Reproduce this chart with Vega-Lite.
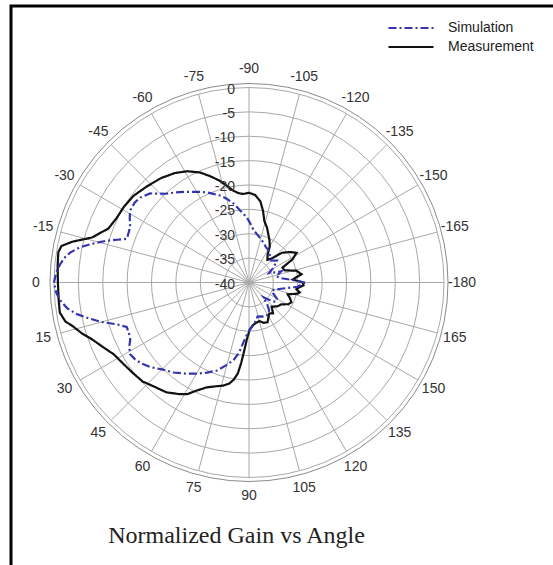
{
  "$schema": "https://vega.github.io/schema/vega-lite/v6.json",
  "width": 545,
  "height": 561,
  "autosize": {"type": "none"},
  "padding": {"left": 11, "top": 6, "right": -3, "bottom": -2},
  "background": "white",
  "title": {
    "text": "Normalized Gain vs Angle",
    "orient": "bottom",
    "anchor": "middle",
    "frame": "group",
    "offset": 0,
    "dx": -47,
    "dy": -31,
    "baseline": "middle",
    "font": "Liberation Serif",
    "fontSize": 24,
    "fontWeight": "normal",
    "color": "#222"
  },
  "config": {
    "view": {"stroke": "#000", "strokeWidth": 3},
    "font": "Liberation Sans"
  },
  "datasets": {
    "rings": [{"gain": 0}, {"gain": -5}, {"gain": -10}, {"gain": -15}, {"gain": -20}, {"gain": -25}, {"gain": -30}, {"gain": -35}],
    "rlabels": [
      {"gain": 0, "lab": "0"}, {"gain": -5, "lab": "-5"}, {"gain": -10, "lab": "-10"}, {"gain": -15, "lab": "-15"},
      {"gain": -20, "lab": "-20"}, {"gain": -25, "lab": "-25"}, {"gain": -30, "lab": "-30"}, {"gain": -35, "lab": "-35"}, {"gain": -40, "lab": "-40"}
    ],
    "angles": [
      {"angle": -180, "lab": "-180"}, {"angle": -165, "lab": "-165"}, {"angle": -150, "lab": "-150"}, {"angle": -135, "lab": "-135"},
      {"angle": -120, "lab": "-120"}, {"angle": -105, "lab": "-105"}, {"angle": -90, "lab": "-90"}, {"angle": -75, "lab": "-75"},
      {"angle": -60, "lab": "-60"}, {"angle": -45, "lab": "-45"}, {"angle": -30, "lab": "-30"}, {"angle": -15, "lab": "-15"},
      {"angle": 0, "lab": "0"}, {"angle": 15, "lab": "15"}, {"angle": 30, "lab": "30"}, {"angle": 45, "lab": "45"},
      {"angle": 60, "lab": "60"}, {"angle": 75, "lab": "75"}, {"angle": 90, "lab": "90"}, {"angle": 105, "lab": "105"},
      {"angle": 120, "lab": "120"}, {"angle": 135, "lab": "135"}, {"angle": 150, "lab": "150"}, {"angle": 165, "lab": "165"}
    ],
    "curves": [
      {"series": "Measurement", "angle": -180, "gain": -29.0},
      {"series": "Measurement", "angle": -176, "gain": -31.0},
      {"series": "Measurement", "angle": -171, "gain": -29.1},
      {"series": "Measurement", "angle": -166, "gain": -30.0},
      {"series": "Measurement", "angle": -161, "gain": -32.3},
      {"series": "Measurement", "angle": -156, "gain": -32.5},
      {"series": "Measurement", "angle": -152, "gain": -29.9},
      {"series": "Measurement", "angle": -148, "gain": -28.5},
      {"series": "Measurement", "angle": -143, "gain": -29.6},
      {"series": "Measurement", "angle": -138, "gain": -30.9},
      {"series": "Measurement", "angle": -133, "gain": -33.3},
      {"series": "Measurement", "angle": -129, "gain": -34.0},
      {"series": "Measurement", "angle": -124, "gain": -33.2},
      {"series": "Measurement", "angle": -120, "gain": -31.5},
      {"series": "Measurement", "angle": -116, "gain": -30.4},
      {"series": "Measurement", "angle": -108, "gain": -28.1},
      {"series": "Measurement", "angle": -104, "gain": -27.0},
      {"series": "Measurement", "angle": -101, "gain": -25.0},
      {"series": "Measurement", "angle": -98, "gain": -23.2},
      {"series": "Measurement", "angle": -94, "gain": -22.0},
      {"series": "Measurement", "angle": -90, "gain": -21.6},
      {"series": "Measurement", "angle": -86, "gain": -21.8},
      {"series": "Measurement", "angle": -83, "gain": -21.5},
      {"series": "Measurement", "angle": -80, "gain": -20.8},
      {"series": "Measurement", "angle": -77, "gain": -19.6},
      {"series": "Measurement", "angle": -74, "gain": -18.3},
      {"series": "Measurement", "angle": -70, "gain": -16.8},
      {"series": "Measurement", "angle": -66, "gain": -15.3},
      {"series": "Measurement", "angle": -61, "gain": -13.9},
      {"series": "Measurement", "angle": -56, "gain": -12.9},
      {"series": "Measurement", "angle": -50, "gain": -12.0},
      {"series": "Measurement", "angle": -43, "gain": -11.2},
      {"series": "Measurement", "angle": -37, "gain": -10.4},
      {"series": "Measurement", "angle": -31, "gain": -10.0},
      {"series": "Measurement", "angle": -26, "gain": -9.8},
      {"series": "Measurement", "angle": -21, "gain": -9.1},
      {"series": "Measurement", "angle": -16, "gain": -6.5},
      {"series": "Measurement", "angle": -13, "gain": -2.8},
      {"series": "Measurement", "angle": -11, "gain": -0.8},
      {"series": "Measurement", "angle": -9, "gain": -0.4},
      {"series": "Measurement", "angle": -5, "gain": -0.6},
      {"series": "Measurement", "angle": 0, "gain": -0.8},
      {"series": "Measurement", "angle": 5, "gain": -0.8},
      {"series": "Measurement", "angle": 9, "gain": -0.7},
      {"series": "Measurement", "angle": 12, "gain": -1.5},
      {"series": "Measurement", "angle": 14, "gain": -2.8},
      {"series": "Measurement", "angle": 17, "gain": -4.2},
      {"series": "Measurement", "angle": 20, "gain": -5.8},
      {"series": "Measurement", "angle": 24, "gain": -7.3},
      {"series": "Measurement", "angle": 28, "gain": -8.6},
      {"series": "Measurement", "angle": 33, "gain": -9.3},
      {"series": "Measurement", "angle": 38, "gain": -9.8},
      {"series": "Measurement", "angle": 43, "gain": -10.2},
      {"series": "Measurement", "angle": 47, "gain": -11.0},
      {"series": "Measurement", "angle": 53, "gain": -11.8},
      {"series": "Measurement", "angle": 58, "gain": -13.0},
      {"series": "Measurement", "angle": 61, "gain": -13.8},
      {"series": "Measurement", "angle": 64, "gain": -15.3},
      {"series": "Measurement", "angle": 68, "gain": -16.8},
      {"series": "Measurement", "angle": 72, "gain": -17.6},
      {"series": "Measurement", "angle": 76, "gain": -18.2},
      {"series": "Measurement", "angle": 79, "gain": -18.9},
      {"series": "Measurement", "angle": 81, "gain": -19.8},
      {"series": "Measurement", "angle": 83, "gain": -21.2},
      {"series": "Measurement", "angle": 84.5, "gain": -23.5},
      {"series": "Measurement", "angle": 86, "gain": -26.0},
      {"series": "Measurement", "angle": 88, "gain": -28.5},
      {"series": "Measurement", "angle": 91, "gain": -30.4},
      {"series": "Measurement", "angle": 95, "gain": -31.2},
      {"series": "Measurement", "angle": 100, "gain": -31.6},
      {"series": "Measurement", "angle": 105, "gain": -31.8},
      {"series": "Measurement", "angle": 110, "gain": -31.2},
      {"series": "Measurement", "angle": 115, "gain": -31.0},
      {"series": "Measurement", "angle": 119, "gain": -31.8},
      {"series": "Measurement", "angle": 123, "gain": -32.4},
      {"series": "Measurement", "angle": 128, "gain": -32.0},
      {"series": "Measurement", "angle": 133, "gain": -33.2},
      {"series": "Measurement", "angle": 140, "gain": -32.4},
      {"series": "Measurement", "angle": 146, "gain": -32.0},
      {"series": "Measurement", "angle": 151, "gain": -30.8},
      {"series": "Measurement", "angle": 155, "gain": -30.4},
      {"series": "Measurement", "angle": 159, "gain": -31.0},
      {"series": "Measurement", "angle": 163, "gain": -31.7},
      {"series": "Measurement", "angle": 167, "gain": -29.8},
      {"series": "Measurement", "angle": 169, "gain": -29.4},
      {"series": "Measurement", "angle": 172, "gain": -30.2},
      {"series": "Measurement", "angle": 175, "gain": -29.5},
      {"series": "Measurement", "angle": 177, "gain": -28.8},
      {"series": "Measurement", "angle": 180, "gain": -29.0},
      {"series": "Simulation", "angle": -180, "gain": -28.5},
      {"series": "Simulation", "angle": -176, "gain": -31.5},
      {"series": "Simulation", "angle": -172, "gain": -33.5},
      {"series": "Simulation", "angle": -167, "gain": -34.3},
      {"series": "Simulation", "angle": -161, "gain": -33.0},
      {"series": "Simulation", "angle": -155, "gain": -35.5},
      {"series": "Simulation", "angle": -149, "gain": -34.2},
      {"series": "Simulation", "angle": -142, "gain": -32.7},
      {"series": "Simulation", "angle": -135, "gain": -33.6},
      {"series": "Simulation", "angle": -128, "gain": -33.0},
      {"series": "Simulation", "angle": -122, "gain": -32.3},
      {"series": "Simulation", "angle": -116, "gain": -32.0},
      {"series": "Simulation", "angle": -110, "gain": -31.3},
      {"series": "Simulation", "angle": -104, "gain": -30.6},
      {"series": "Simulation", "angle": -99, "gain": -29.9},
      {"series": "Simulation", "angle": -95, "gain": -29.2},
      {"series": "Simulation", "angle": -91, "gain": -27.8},
      {"series": "Simulation", "angle": -88, "gain": -26.6},
      {"series": "Simulation", "angle": -83, "gain": -25.1},
      {"series": "Simulation", "angle": -79, "gain": -23.5},
      {"series": "Simulation", "angle": -75, "gain": -22.2},
      {"series": "Simulation", "angle": -71.6, "gain": -21.2},
      {"series": "Simulation", "angle": -68, "gain": -20.4},
      {"series": "Simulation", "angle": -65, "gain": -19.6},
      {"series": "Simulation", "angle": -60, "gain": -18.5},
      {"series": "Simulation", "angle": -55, "gain": -17.3},
      {"series": "Simulation", "angle": -51, "gain": -16.2},
      {"series": "Simulation", "angle": -47, "gain": -15.1},
      {"series": "Simulation", "angle": -42, "gain": -12.7},
      {"series": "Simulation", "angle": -38, "gain": -11.7},
      {"series": "Simulation", "angle": -35, "gain": -11.4},
      {"series": "Simulation", "angle": -31, "gain": -11.5},
      {"series": "Simulation", "angle": -28, "gain": -12.3},
      {"series": "Simulation", "angle": -25, "gain": -13.1},
      {"series": "Simulation", "angle": -22, "gain": -13.3},
      {"series": "Simulation", "angle": -19.7, "gain": -13.4},
      {"series": "Simulation", "angle": -18, "gain": -11.6},
      {"series": "Simulation", "angle": -16.4, "gain": -9.6},
      {"series": "Simulation", "angle": -14, "gain": -7.0},
      {"series": "Simulation", "angle": -11.8, "gain": -4.6},
      {"series": "Simulation", "angle": -9.5, "gain": -2.8},
      {"series": "Simulation", "angle": -7.8, "gain": -1.9},
      {"series": "Simulation", "angle": -5.6, "gain": -1.1},
      {"series": "Simulation", "angle": -3, "gain": -0.4},
      {"series": "Simulation", "angle": 0, "gain": 0},
      {"series": "Simulation", "angle": 3, "gain": -0.4},
      {"series": "Simulation", "angle": 5.4, "gain": -1.1},
      {"series": "Simulation", "angle": 8, "gain": -2.3},
      {"series": "Simulation", "angle": 10.3, "gain": -4.0},
      {"series": "Simulation", "angle": 12.5, "gain": -6.2},
      {"series": "Simulation", "angle": 14.9, "gain": -8.6},
      {"series": "Simulation", "angle": 17.5, "gain": -11.5},
      {"series": "Simulation", "angle": 20, "gain": -13.3},
      {"series": "Simulation", "angle": 22.5, "gain": -13.3},
      {"series": "Simulation", "angle": 25.6, "gain": -13.0},
      {"series": "Simulation", "angle": 28, "gain": -12.2},
      {"series": "Simulation", "angle": 31, "gain": -11.5},
      {"series": "Simulation", "angle": 34, "gain": -11.8},
      {"series": "Simulation", "angle": 37, "gain": -12.4},
      {"series": "Simulation", "angle": 40.5, "gain": -13.3},
      {"series": "Simulation", "angle": 45, "gain": -14.8},
      {"series": "Simulation", "angle": 50, "gain": -15.9},
      {"series": "Simulation", "angle": 55, "gain": -17.2},
      {"series": "Simulation", "angle": 60, "gain": -18.4},
      {"series": "Simulation", "angle": 65, "gain": -19.6},
      {"series": "Simulation", "angle": 70, "gain": -20.8},
      {"series": "Simulation", "angle": 74, "gain": -22.2},
      {"series": "Simulation", "angle": 78.6, "gain": -23.7},
      {"series": "Simulation", "angle": 82, "gain": -25.5},
      {"series": "Simulation", "angle": 84.4, "gain": -27.5},
      {"series": "Simulation", "angle": 87, "gain": -29.0},
      {"series": "Simulation", "angle": 91, "gain": -30.3},
      {"series": "Simulation", "angle": 97, "gain": -31.4},
      {"series": "Simulation", "angle": 104, "gain": -32.8},
      {"series": "Simulation", "angle": 110, "gain": -32.6},
      {"series": "Simulation", "angle": 116, "gain": -32.2},
      {"series": "Simulation", "angle": 121, "gain": -32.4},
      {"series": "Simulation", "angle": 126, "gain": -33.0},
      {"series": "Simulation", "angle": 130, "gain": -34.2},
      {"series": "Simulation", "angle": 134, "gain": -35.8},
      {"series": "Simulation", "angle": 139, "gain": -34.6},
      {"series": "Simulation", "angle": 144, "gain": -33.2},
      {"series": "Simulation", "angle": 150, "gain": -33.4},
      {"series": "Simulation", "angle": 156, "gain": -34.6},
      {"series": "Simulation", "angle": 161, "gain": -35.0},
      {"series": "Simulation", "angle": 166, "gain": -34.2},
      {"series": "Simulation", "angle": 171, "gain": -32.5},
      {"series": "Simulation", "angle": 175, "gain": -30.0},
      {"series": "Simulation", "angle": 180, "gain": -28.5}
    ]
  },
  "layer": [
    {
      "data": {"name": "rings"},
      "transform": [{"calculate": "datum.gain + 40", "as": "r"}],
      "mark": {"type": "point", "shape": "circle", "filled": false, "stroke": "#a8a8a8", "strokeWidth": 1, "opacity": 1},
      "encoding": {
        "x": {"datum": 0, "type": "quantitative", "scale": {"domain": [-48.82, 62.97], "nice": false, "zero": false}, "axis": null},
        "y": {"datum": 0, "type": "quantitative", "scale": {"domain": [-58.36, 56.72], "nice": false, "zero": false}, "axis": null},
        "size": {"field": "r", "type": "quantitative", "scale": {"type": "pow", "exponent": 2, "domain": [0, 40], "range": [0, 152100], "zero": false, "nice": false}, "legend": null}
      }
    },
    {
      "data": {"name": "rings"},
      "transform": [{"filter": "datum.gain == 0"}],
      "mark": {"type": "point", "shape": "circle", "filled": false, "stroke": "#8a8a8a", "strokeWidth": 1, "opacity": 1, "size": 158404},
      "encoding": {
        "x": {"datum": 0, "type": "quantitative"},
        "y": {"datum": 0, "type": "quantitative"}
      }
    },
    {
      "data": {"name": "angles"},
      "transform": [
        {"calculate": "-40*cos(datum.angle*PI/180)", "as": "sx"},
        {"calculate": "-40*sin(datum.angle*PI/180)", "as": "sy"}
      ],
      "mark": {"type": "rule", "stroke": "#a8a8a8", "strokeWidth": 1},
      "encoding": {
        "x": {"field": "sx", "type": "quantitative"},
        "y": {"field": "sy", "type": "quantitative"},
        "x2": {"datum": 0},
        "y2": {"datum": 0}
      }
    },
    {
      "data": {"name": "curves"},
      "transform": [
        {"calculate": "-(datum.gain+40)*cos(datum.angle*PI/180)", "as": "px"},
        {"calculate": "-(datum.gain+40)*sin(datum.angle*PI/180)", "as": "py"}
      ],
      "mark": {"type": "line", "strokeWidth": 2.2},
      "encoding": {
        "x": {"field": "px", "type": "quantitative"},
        "y": {"field": "py", "type": "quantitative"},
        "order": {"field": "angle", "type": "quantitative"},
        "color": {
          "field": "series", "type": "nominal",
          "scale": {"domain": ["Simulation", "Measurement"], "range": ["#3434b0", "#111111"]},
          "legend": {"title": null, "orient": "none", "legendX": 391, "legendY": 13, "symbolType": "M-3,0H3", "symbolSize": 225, "symbolStrokeWidth": 2.2, "labelOffset": 28, "labelFontSize": 14, "labelColor": "#222", "labelFont": "Liberation Sans", "padding": 0, "rowPadding": 3}
        },
        "strokeDash": {
          "field": "series", "type": "nominal",
          "scale": {"domain": ["Simulation", "Measurement"], "range": [[8, 3, 2, 3], [1, 0]]},
          "legend": {"title": null, "orient": "none", "legendX": 391, "legendY": 13, "symbolType": "M-3,0H3", "symbolSize": 225, "symbolStrokeWidth": 2.2, "labelOffset": 28, "labelFontSize": 14, "labelColor": "#222", "labelFont": "Liberation Sans", "padding": 0, "rowPadding": 3}
        }
      }
    },
    {
      "data": {"name": "angles"},
      "transform": [
        {"calculate": "-43.7*cos(datum.angle*PI/180)", "as": "lx"},
        {"calculate": "-43.7*sin(datum.angle*PI/180)", "as": "ly"}
      ],
      "mark": {"type": "text", "align": "center", "baseline": "middle", "fontSize": 14, "color": "#333", "font": "Liberation Sans"},
      "encoding": {
        "x": {"field": "lx", "type": "quantitative"},
        "y": {"field": "ly", "type": "quantitative"},
        "text": {"field": "lab", "type": "nominal"}
      }
    },
    {
      "data": {"name": "rlabels"},
      "transform": [{"calculate": "datum.gain + 40", "as": "r"}],
      "mark": {"type": "text", "align": "right", "baseline": "middle", "dx": -14, "dy": 2, "fontSize": 14, "color": "#333", "font": "Liberation Sans"},
      "encoding": {
        "x": {"datum": 0, "type": "quantitative"},
        "y": {"field": "r", "type": "quantitative"},
        "text": {"field": "lab", "type": "nominal"}
      }
    }
  ]
}
